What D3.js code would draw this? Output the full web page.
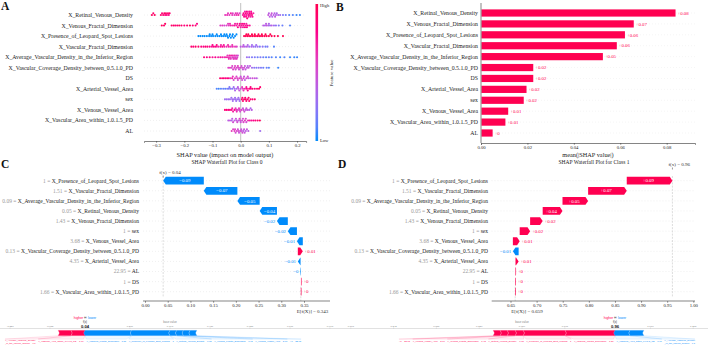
<!DOCTYPE html>
<html><head><meta charset="utf-8">
<script src="https://cdn.jsdelivr.net/npm/d3@7/dist/d3.min.js"></script>
<style>
html,body{margin:0;padding:0;background:#fff;}
svg{display:block;}
</style></head><body>
<svg id="chart" width="708" height="347"></svg>
<script>
// ================= DATA =================
const summaryFeatures = ["X_Retinal_Venous_Density","X_Venous_Fractal_Dimension","X_Presence_of_Leopard_Spot_Lesions","X_Vascular_Fractal_Dimension","X_Average_Vascular_Density_in_the_Inferior_Region","X_Vascular_Coverage_Density_between_0.5.1.0_PD","DS","X_Arterial_Vessel_Area","sex","X_Venous_Vessel_Area","X_Vascular_Area_within_1.0.1.5_PD","AL"];

// beeswarm points: [SHAP value, normalised feature value 0=low 1=high]
const shapRetinalVenousDensity = [[-0.315,.95],[-0.31,.9],[-0.305,.95],[-0.283,.9],[-0.279,.85],[-0.275,.9],[-0.271,.95],[-0.268,.8],[-0.265,.9],[-0.262,.85],[-0.258,.9],[-0.255,.8],[-0.252,.9],[-0.055,.6],[-0.048,.65],[-0.045,.6],[-0.04,.6],[-0.035,.7],[-0.03,.6],[-0.028,.55],[-0.022,.6],[-0.018,.65],[-0.015,.65],[-0.012,.6],[-0.008,.7],[-0.004,.55],[0.008,.75],[0.01,.8],[0.012,.8],[0.014,.75],[0.015,.7],[0.018,.85],[0.019,.8],[0.02,.75],[0.022,.8],[0.023,.85],[0.025,.7],[0.027,.8],[0.028,.75],[0.03,.75],[0.032,.85],[0.033,.8],[0.035,.7],[0.037,.75],[0.038,.8],[0.04,.85],[0.042,.75],[0.045,.7],[0.098,.45],[0.1,.4],[0.103,.4],[0.108,.45],[0.11,.45],[0.112,.35],[0.117,.4],[0.12,.4],[0.122,.45],[0.125,.35],[0.128,.35],[0.133,.4],[0.14,.3],[0.15,.2],[0.16,.15],[0.172,.1],[0.185,.1],[0.198,.05],[0.21,.05]];
const shapVenousFractalDimension = [[-0.28,.95],[-0.272,.9],[-0.268,.95],[-0.245,.9],[-0.238,.95],[-0.232,.85],[-0.225,.9],[-0.218,.95],[-0.21,.9],[-0.2,.85],[-0.19,.9],[-0.18,.95],[-0.17,.85],[-0.16,.9],[-0.155,.8],[-0.072,.55],[-0.065,.6],[-0.058,.5],[-0.05,.55],[-0.045,.6],[-0.042,.6],[-0.038,.65],[-0.035,.7],[-0.028,.65],[-0.022,.75],[-0.02,.7],[-0.015,.7],[-0.012,.75],[-0.01,.8],[-0.005,.75],[-0.003,.8],[0.0,.7],[0.003,.75],[0.005,.8],[0.008,.7],[0.01,.75],[0.012,.8],[0.015,.85],[0.018,.75],[0.02,.7],[0.022,.8],[0.025,.8],[0.032,.75],[0.08,.4],[0.086,.35],[0.09,.4],[0.092,.45],[0.098,.35],[0.1,.35],[0.104,.3],[0.11,.4],[0.118,.3],[0.125,.25],[0.135,.2],[0.148,.15],[0.175,.1]];
const shapLeopardSpotLesions = [[-0.15,0],[-0.143,0],[-0.135,0],[-0.128,0],[-0.12,0],[-0.112,0],[-0.11,0],[-0.105,0],[-0.1,0],[-0.098,0],[-0.09,0],[-0.085,0],[-0.082,0],[-0.075,0],[-0.07,0],[-0.068,0],[-0.062,0],[-0.058,0],[-0.055,0],[-0.05,0],[-0.048,0],[-0.045,0],[-0.04,0],[-0.038,0],[-0.035,0],[-0.03,0],[-0.028,0],[-0.025,0],[-0.02,0],[-0.015,0],[0.012,1],[0.018,1],[0.02,1],[0.024,1],[0.027,1],[0.03,1],[0.036,1],[0.04,1],[0.042,1],[0.048,1],[0.05,1],[0.054,1],[0.06,1],[0.063,1],[0.066,1],[0.072,1],[0.075,1],[0.078,1],[0.085,1],[0.088,1],[0.092,1],[0.1,1],[0.105,1],[0.11,1],[0.12,1],[0.132,1],[0.15,1]];
const shapVascularFractalDimension = [[-0.175,.9],[-0.168,.85],[-0.16,.95],[-0.15,.9],[-0.14,.85],[-0.132,.8],[-0.125,.9],[-0.118,.85],[-0.11,.8],[-0.102,.75],[-0.1,.8],[-0.095,.85],[-0.088,.8],[-0.085,.85],[-0.08,.7],[-0.072,.75],[-0.07,.7],[-0.065,.8],[-0.06,.75],[-0.058,.7],[-0.05,.65],[-0.045,.7],[-0.042,.7],[-0.035,.6],[-0.03,.65],[-0.028,.65],[-0.02,.6],[-0.014,.55],[0.0,.4],[0.008,.45],[0.01,.4],[0.015,.35],[0.022,.4],[0.025,.35],[0.03,.3],[0.038,.35],[0.04,.3],[0.045,.3],[0.052,.25],[0.055,.3],[0.06,.3],[0.068,.2],[0.078,.25],[0.088,.15],[0.095,.2],[0.118,.1]];
const shapAvgVascularDensityInferior = [[-0.13,.85],[-0.12,.8],[-0.11,.85],[-0.1,.75],[-0.09,.8],[-0.08,.7],[-0.072,.75],[-0.065,.7],[-0.058,.65],[-0.052,.7],[-0.047,.6],[-0.045,.65],[-0.042,.65],[-0.04,.7],[-0.038,.6],[-0.035,.6],[-0.034,.7],[-0.03,.55],[-0.028,.65],[-0.026,.6],[-0.024,.55],[-0.022,.65],[-0.02,.6],[-0.018,.55],[-0.016,.6],[-0.014,.6],[-0.012,.55],[-0.01,.5],[0.022,.3],[0.03,.25],[0.04,.2],[0.05,.2],[0.06,.15],[0.07,.2],[0.08,.15],[0.09,.1],[0.1,.15],[0.11,.1],[0.125,.1],[0.14,.05],[0.155,.1],[0.175,.05],[0.19,.05],[0.2,.05]];
const shapVascularCoverageDensity = [[-0.044,.55],[-0.038,.6],[-0.032,.5],[-0.03,.55],[-0.027,.55],[-0.022,.6],[-0.02,.55],[-0.018,.5],[-0.014,.55],[-0.01,.6],[-0.008,.5],[-0.006,.5],[-0.002,.55],[0.003,.5],[0.005,.5],[0.008,.45],[0.012,.5],[0.015,.45],[0.017,.45],[0.022,.4],[0.025,.4],[0.028,.45],[0.033,.4],[0.04,.3],[0.048,.25],[0.056,.2],[0.064,.25],[0.072,.2],[0.08,.15],[0.092,.15],[0.1,.1],[0.133,.05]];
const shapDS = [[-0.073,.9],[-0.066,.85],[-0.06,.9],[-0.054,.8],[-0.048,.85],[-0.042,.8],[-0.036,.6],[-0.03,.7],[-0.028,.6],[-0.025,.5],[-0.02,.6],[-0.015,.55],[-0.012,.55],[-0.01,.5],[-0.005,.6],[0.0,.45],[0.002,.5],[0.005,.5],[0.01,.55],[0.012,.45],[0.015,.4],[0.02,.5],[0.025,.5],[0.027,.45],[0.034,.4],[0.042,.5],[0.05,.45],[0.057,.4]];
const shapArterialVesselArea = [[-0.085,.1],[-0.078,.05],[-0.07,.1],[-0.062,.15],[-0.055,.1],[-0.048,.2],[-0.042,.15],[-0.04,.2],[-0.036,.25],[-0.03,.2],[-0.025,.3],[-0.022,.3],[-0.02,.35],[-0.015,.3],[-0.01,.4],[-0.008,.4],[-0.005,.45],[0.0,.5],[0.005,.6],[0.008,.6],[0.01,.65],[0.015,.7],[0.02,.75],[0.022,.8],[0.025,.8],[0.03,.85],[0.035,.85],[0.036,.8],[0.042,.9],[0.05,.85],[0.058,.9],[0.065,.95],[0.069,.9]];
const shapSex = [[-0.056,.3],[-0.05,.3],[-0.044,.3],[-0.038,.3],[-0.033,.3],[-0.03,.3],[-0.028,.3],[-0.024,.3],[-0.02,.3],[-0.018,.3],[-0.016,.3],[-0.012,.3],[-0.008,.3],[-0.006,.3],[-0.004,.3],[0.004,.9],[0.006,.9],[0.008,.9],[0.012,.9],[0.016,.9],[0.018,.9],[0.02,.9],[0.025,.9],[0.028,.9],[0.03,.9],[0.035,.9],[0.042,.9],[0.05,.9]];
const shapVenousVesselArea = [[-0.056,.85],[-0.05,.9],[-0.044,.8],[-0.038,.85],[-0.032,.75],[-0.03,.7],[-0.027,.7],[-0.022,.8],[-0.018,.6],[-0.016,.6],[-0.014,.65],[-0.01,.55],[-0.006,.6],[-0.004,.55],[-0.002,.5],[0.003,.55],[0.008,.45],[0.01,.5],[0.013,.5],[0.018,.4],[0.02,.45],[0.024,.45],[0.03,.4],[0.035,.35],[0.039,.4]];
const shapVascularAreaWithin = [[-0.044,.4],[-0.038,.45],[-0.032,.35],[-0.03,.4],[-0.027,.5],[-0.022,.4],[-0.017,.45],[-0.015,.45],[-0.012,.5],[-0.008,.4],[-0.004,.55],[-0.002,.5],[0.0,.45],[0.005,.5],[0.008,.5],[0.01,.55],[0.015,.6],[0.018,.55],[0.02,.5],[0.026,.65],[0.032,.7],[0.038,.75],[0.045,.8],[0.052,.85],[0.06,.9],[0.068,.95]];
const shapAL = [[-0.032,.6],[-0.027,.55],[-0.022,.6],[-0.02,.55],[-0.018,.5],[-0.014,.55],[-0.01,.5],[-0.008,.5],[-0.006,.45],[-0.002,.5],[0.002,.45],[0.004,.45],[0.006,.5],[0.01,.4],[0.012,.45],[0.014,.45],[0.018,.4],[0.022,.45],[0.027,.4],[0.069,.3]];
const summaryTicks = [-0.3,-0.2,-0.1,0,0.1,0.2];

const meanAbsShap = [0.0836,0.0656,0.0618,0.0583,0.0523,0.0223,0.0223,0.0194,0.0182,0.0115,0.0103,0.0048];
const meanAbsTicks = [0,0.02,0.04,0.06,0.08];

const waterfallFeatures = ["X_Presence_of_Leopard_Spot_Lesions","X_Vascular_Fractal_Dimension","X_Average_Vascular_Density_in_the_Inferior_Region","X_Retinal_Venous_Density","X_Venous_Fractal_Dimension","sex","X_Venous_Vessel_Area","X_Vascular_Coverage_Density_between_0.5.1.0_PD","X_Arterial_Vessel_Area","AL","DS","X_Vascular_Area_within_1.0.1.5_PD"];
const waterfallFeatureValues = ["1","1.51","0.09","0.05","1.43","1","3.68","0.13","4.35","22.95","1","1.66"];
const shapClass0 = [-0.0894,-0.074,-0.049,-0.038,-0.024,-0.02,-0.013,0.011,-0.006,-0.001,0.0002,0.0002];
const baseClass0 = 0.343;
const shapClass1 = [0.0874,0.074,0.049,0.038,0.024,0.02,0.013,-0.011,0.006,0.0002,0.0002,0.0002];
const baseClass1 = 0.659;
const waterfallTicks0 = [0,0.05,0.10,0.15,0.20,0.25,0.30,0.35];
const waterfallTicks1 = [0.65,0.70,0.75,0.80,0.85,0.90,0.95,1.00];

// force plots (small embedded plots under C and D)
const forceC_features = ["X_Average_Vascular_Density_in_the_Inferior_Region","X_Vascular_Area_within_1.0.1.5_PD","X_Vascular_Fractal_Dimension","X_Presence_of_Leopard_Spot_Lesions","X_Retinal_Venous_Density","X_Venous_Fractal_Dimension","X_Venous_Vessel_Area","AL"];
const forceC_values = ["0.1","1.66","1.51","1","0.05","1.43","3.67","22.95"];
const forceC_effects = [0.046,0.050,-0.166,-0.137,-0.024,-0.024,-0.024,-0.024];
const forceC_base = 0.343;
const forceC_ticks = [-0.227,-0.085,0.200,0.343,0.486,0.628,0.771,0.913];
const forceD_features = ["AL","X_Venous_Vessel_Area","X_Venous_Fractal_Dimension","X_Retinal_Venous_Density","X_Presence_of_Leopard_Spot_Lesions","X_Vascular_Fractal_Dimension","X_Vascular_Area_within_1.0.1.5_PD","X_Average_Vascular_Density_in_the_Inferior_Region"];
const forceD_values = ["22.95","3.67","1.43","0.05","1","1.51","1.66","0.1"];
const forceD_effects = [0.023,0.023,0.026,0.026,0.136,0.162,-0.049,-0.045];
const forceD_base = 0.659;
const forceD_ticks = [0.103,0.242,0.381,0.520,0.659,0.798,1.076,1.215];

// ================= RENDER =================
const RED = "#ff0051", BLUE = "#008bfb";
const SERIF = '"Liberation Serif","Times New Roman",serif';
const SANS = '"Liberation Sans",Arial,sans-serif';
const svg = d3.select("#chart");
const fv = d3.interpolateHcl(BLUE, RED);
function fmtSigned(v){
  let s = Math.abs(v).toFixed(2).replace(/\.?0+$/,'');
  if (s === "") s = "0";
  return (v < 0 ? "\u2212" : "+") + s;
}
function fmtVal(v){ return v.toFixed(3).replace(/0+$/,'').replace(/\.$/,''); }
function txt(g, x, y, s, o={}) {
  return g.append("text").attr("x", x).attr("y", y).text(s)
    .attr("font-family", o.ff || SERIF).attr("font-size", o.fs || 5.8)
    .attr("fill", o.fill || "#222").attr("text-anchor", o.anchor || "start")
    .attr("font-weight", o.fw || "normal");
}
function styleAxis(ax){
  ax.select(".domain").attr("stroke","#333").attr("stroke-width",0.6);
  ax.selectAll(".tick line").attr("stroke","#333").attr("stroke-width",0.5);
  ax.selectAll("text").attr("font-family",SERIF).attr("font-size",4.7).attr("fill","#222");
}

// panel letters
[["A",1,10],["B",336,11],["C",1,168],["D",338,168]].forEach(([l,x,y]) =>
  txt(svg, x, y, l, {fs: 11.5, fw: "bold", fill: "#111"}));

// ---------- Panel A: beeswarm ----------
(function(){
  const g = svg.append("g");
  const x = d3.scaleLinear().domain([-0.343, 0.232]).range([144, 306.1]);
  const y = d3.scalePoint().domain(d3.range(summaryFeatures.length)).range([15, 131]);
  const rows = [shapRetinalVenousDensity, shapVenousFractalDimension, shapLeopardSpotLesions, shapVascularFractalDimension, shapAvgVascularDensityInferior, shapVascularCoverageDensity, shapDS, shapArterialVesselArea, shapSex, shapVenousVesselArea, shapVascularAreaWithin, shapAL];
  rows.forEach((r,i) => g.append("line").attr("x1",144).attr("x2",306).attr("y1",y(i)).attr("y2",y(i))
    .attr("stroke","#ccc").attr("stroke-width",0.5).attr("stroke-dasharray","0.6,2.4"));
  g.append("line").attr("x1",x(0)).attr("x2",x(0)).attr("y1",3).attr("y2",141).attr("stroke","#999").attr("stroke-width",0.6);
  summaryFeatures.forEach((f,i) => txt(g, 133, y(i)+2, f, {anchor:"end", fs:5.8}));
  const R = 1.05, maxOff = 4.0;
  rows.forEach((pts, i) => {
    const ps = pts.map(p => ({x: x(p[0]), c: p[1]})).sort((a,b) => a.x - b.x);
    const placed = [];
    ps.forEach(p => {
      let best = 0, bestD = -1;
      for (let n = 0; n < 30; n++) {
        const off = n === 0 ? 0 : Math.ceil(n/2) * R * 1.6 * (n % 2 ? -1 : 1);
        if (Math.abs(off) > maxOff) continue;
        const dmin = d3.min(placed, q => (q.x-p.x)**2 + (q.dy-off)**2);
        if (dmin === undefined || dmin >= (2*R*0.8)**2) { best = off; bestD = Infinity; break; }
        if (dmin > bestD) { bestD = dmin; best = off; }
      }
      p.dy = best; placed.push(p);
    });
    g.selectAll(null).data(ps).enter().append("circle")
      .attr("cx", d => d.x).attr("cy", d => y(i) + d.dy).attr("r", R)
      .attr("fill", d => fv(d.c));
  });
  const ax = g.append("g").attr("transform","translate(0,141)")
    .call(d3.axisBottom(x).tickValues(summaryTicks).tickFormat(d3.format(".1f")).tickSize(1.8).tickPadding(1));
  styleAxis(ax);
  txt(g, 225, 156.5, "SHAP value (impact on model output)", {anchor:"middle", fs:6.3});
  const defs = svg.append("defs");
  const grad = defs.append("linearGradient").attr("id","cb").attr("x1",0).attr("x2",0).attr("y1",1).attr("y2",0);
  d3.range(0,1.001,0.1).forEach(t => grad.append("stop").attr("offset",t).attr("stop-color",fv(t)));
  g.append("rect").attr("x",315.5).attr("y",4).attr("width",2.6).attr("height",137).attr("fill","url(#cb)");
  txt(g, 320, 7, "High", {fs:4.6});
  txt(g, 320, 142, "Low", {fs:4.6});
  txt(g, 0, 0, "Feature value", {fs:5, anchor:"middle"}).attr("transform","translate(333,73) rotate(-90)");
})();

// ---------- Panel B: mean |SHAP| bars ----------
(function(){
  const g = svg.append("g");
  const x = d3.scaleLinear().domain([0, 0.0922]).range([481, 695]);
  const y = d3.scalePoint().domain(d3.range(summaryFeatures.length)).range([13, 133]);
  summaryFeatures.forEach((f,i) => {
    g.append("line").attr("x1",481).attr("x2",695).attr("y1",y(i)).attr("y2",y(i))
      .attr("stroke","#ddd").attr("stroke-width",0.5).attr("stroke-dasharray","0.6,2.4");
  });
  g.selectAll(null).data(meanAbsShap).enter().append("rect")
    .attr("x", x(0)+0.5).attr("y", (d,i) => y(i)-3.6).attr("height", 7.2)
    .attr("width", d => x(d) - x(0)).attr("fill", RED);
  meanAbsShap.forEach((d,i) => txt(g, x(d)+2.5, y(i)+1.7, fmtSigned(d), {fs:4.8, fill:RED}));
  summaryFeatures.forEach((f,i) => txt(g, 478, y(i)+2, f, {anchor:"end", fs:5.8}));
  g.append("line").attr("x1",481).attr("x2",481).attr("y1",3).attr("y2",143).attr("stroke","#333").attr("stroke-width",0.6);
  const ax = g.append("g").attr("transform","translate(0,143)")
    .call(d3.axisBottom(x).tickValues(meanAbsTicks).tickFormat(d3.format(".2f")).tickSize(1.8).tickPadding(1));
  styleAxis(ax);
  txt(g, 588, 156.5, "mean(|SHAP value|)", {anchor:"middle", fs:6.3});
})();

// ---------- Waterfalls ----------
function waterfall(o){
  const g = svg.append("g");
  const x = o.x;
  const yW = i => 180.7 + i * 10.09;
  const n = o.vals.length;
  for (let i = 0; i < n; i++)
    g.append("line").attr("x1",o.ax0).attr("x2",o.ax1).attr("y1",yW(i)).attr("y2",yW(i))
      .attr("stroke","#ccc").attr("stroke-width",0.5).attr("stroke-dasharray","0.6,2.4");
  let cum = o.base; const segs = [];
  for (let i = n-1; i >= 0; i--) { segs[i] = [cum, cum + o.vals[i]]; cum += o.vals[i]; }
  const fx = cum;
  g.append("line").attr("x1",x(fx)).attr("x2",x(fx)).attr("y1",176).attr("y2",297)
    .attr("stroke","#bbb").attr("stroke-width",0.5).attr("stroke-dasharray","2,1.2");
  g.append("line").attr("x1",x(o.base)).attr("x2",x(o.base)).attr("y1",yW(n-1)-5).attr("y2",301)
    .attr("stroke","#bbb").attr("stroke-width",0.5).attr("stroke-dasharray","2,1.2");
  g.append("line").attr("x1",x(fx)).attr("x2",x(fx)).attr("y1",o.fxY+1.5).attr("y2",o.fxY+3.5).attr("stroke","#333").attr("stroke-width",0.5);
  const h = 3.9;
  segs.forEach((s,i) => {
    const a = x(s[0]), b = x(s[1]), dir = b >= a ? 1 : -1, w = Math.abs(b-a);
    const hl = Math.min(w, 2.6), yy = yW(i);
    const bb = w < 0.7 ? a + dir*0.7 : b;
    const col = o.vals[i] >= 0 ? RED : BLUE;
    g.append("path").attr("d", d3.line()([[a,yy-h],[bb-dir*hl,yy-h],[bb,yy],[bb-dir*hl,yy+h],[a,yy+h]]) + "Z")
      .attr("fill", col);
    const lab = fmtSigned(o.vals[i]);
    const tw = lab.length * 2.45;
    if (w - hl > tw + 1) {
      txt(g, (a + b - dir*hl)/2, yy+1.7, lab, {anchor:"middle", fs:4.8, fill:"#fff"});
    } else if (dir > 0) {
      txt(g, Math.max(a,bb) + 1.8, yy+1.7, lab, {fs:4.8, fill:col});
    } else {
      txt(g, Math.min(a,bb) - 1.8, yy+1.7, lab, {anchor:"end", fs:4.8, fill:col});
    }
    const t = txt(g, o.labelX, yW(i)+1.9, "", {anchor:"end", fs:5.5});
    t.append("tspan").attr("fill","#999").text(waterfallFeatureValues[i] + " = ");
    t.append("tspan").attr("fill","#222").text(waterfallFeatures[i]);
  });
  const ax = g.append("g").attr("transform","translate(0,301)")
    .call(d3.axisBottom(x).tickValues(o.ticks).tickFormat(d3.format(".2f")).tickSize(1.8).tickPadding(1));
  styleAxis(ax);
  ax.select(".domain").remove();
  g.append("line").attr("x1",o.ax0).attr("x2",o.ax1).attr("y1",301).attr("y2",301).attr("stroke","#333").attr("stroke-width",0.6);
  txt(g, x(o.base) - 4, 312.5, "E[f(X)] = " + fmtVal(o.base), {fs:5, fill:"#333"});
  txt(g, x(fx) - 4, o.fxY, "f(x) = " + fmtVal(fx), {fs:5, fill:"#333"});
  txt(g, o.titleX, 163.5, o.title, {anchor:"middle", fs:5.5});
}
waterfall({x: d3.scaleLinear().domain([0,0.35]).range([145,304]), vals: shapClass0, base: baseClass0,
  ticks: waterfallTicks0, ax0: 143, ax1: 330, labelX: 139, fxY: 174, titleX: 227, title: "SHAP Waterfall Plot for Class 0"});
waterfall({x: d3.scaleLinear().domain([0.65,1.0]).range([510.5,693.3]), vals: shapClass1, base: baseClass1,
  ticks: waterfallTicks1, ax0: 491.7, ax1: 695, labelX: 488, fxY: 166, titleX: 594, title: "SHAP Waterfall Plot for Class 1"});

// ---------- Force plots ----------
function forceLabel(g, x, y, s, col, anchor, limit, fs){
  // draws a label; wraps onto two lines (and shrinks) when it would run past the panel edge
  const t = txt(g, x, y, s, {ff:SANS, fs, fill:col, anchor});
  let w = t.node().getComputedTextLength();
  const room = anchor === "end" ? x - limit : limit - x;
  if (w > room) {
    const mid = s.length / 2;
    let cut = -1;
    for (let k = 0; k < s.length; k++) if (s[k] === "_" && (cut < 0 || Math.abs(k - mid) < Math.abs(cut - mid))) cut = k;
    t.text(null);
    t.append("tspan").attr("x", x).attr("dy", -1.3).text(s.slice(0, cut));
    t.append("tspan").attr("x", x).attr("dy", 2.6).text(s.slice(cut));
    w = d3.max(t.selectAll("tspan").nodes(), n => n.getComputedTextLength());
    if (w > room) { t.attr("font-size", fs * room / w); w = room; }
  }
  return w;
}
function force(o){
  const g = svg.append("g");
  const x = o.x;
  const fxv = o.base + d3.sum(o.effects);
  const axY = 328.5, top = 330.2, bot = 335.8, labY = 342.3, LFS = 2.35;
  g.append("line").attr("x1",o.x0).attr("x2",o.x1).attr("y1",axY).attr("y2",axY).attr("stroke","#999").attr("stroke-width",0.3);
  o.ticks.forEach(t => {
    g.append("line").attr("x1",x(t)).attr("x2",x(t)).attr("y1",axY-1).attr("y2",axY).attr("stroke","#999").attr("stroke-width",0.3);
    txt(g, x(t), axY-1.6, t.toFixed(3), {ff:SANS, fs:2.5, fill:"#888", anchor:"middle"});
  });
  const fxX = x(fxv);
  const hl = txt(g, fxX, 319, "", {ff:SANS, fs:3.4, anchor:"middle"});
  hl.append("tspan").attr("fill",RED).text("higher");
  hl.append("tspan").attr("fill","#888").text(" \u21c4 ");
  hl.append("tspan").attr("fill",BLUE).text("lower");
  txt(g, fxX, 323, "f(x)", {ff:SANS, fs:2.8, anchor:"middle", fill:"#333"});
  txt(g, fxX, 328, fxv.toFixed(2), {ff:SANS, fs:4.2, anchor:"middle", fw:"bold", fill:"#111"});
  txt(g, x(o.base), 323, "base value", {ff:SANS, fs:2.8, anchor:"middle", fill:"#888"});
  const idx = o.effects.map((e,i) => i);
  const pos = idx.filter(i => o.effects[i] > 0), neg = idx.filter(i => o.effects[i] < 0);
  let cur = fxv; const ch = 1.3;
  const posSegs = [];
  for (let k = pos.length-1; k >= 0; k--) { const i = pos[k]; posSegs.unshift({i, a: x(cur - o.effects[i]), b: x(cur)}); cur -= o.effects[i]; }
  cur = fxv; const negSegs = [];
  neg.forEach(i => { negSegs.push({i, a: x(cur), b: x(cur - o.effects[i])}); cur -= o.effects[i]; });
  const mid = (top+bot)/2;
  posSegs.forEach(s => g.append("path").attr("d", d3.line()([[s.a,top],[s.b,top],[s.b+ch,mid],[s.b,bot],[s.a,bot],[s.a+ch,mid]])+"Z")
    .attr("fill",RED).attr("stroke","#ffb3c8").attr("stroke-width",0.25));
  negSegs.forEach(s => g.append("path").attr("d", d3.line()([[s.a,top],[s.b,top],[s.b-ch,mid],[s.b,bot],[s.a,bot],[s.a-ch,mid]])+"Z")
    .attr("fill",BLUE).attr("stroke","#b3dcff").attr("stroke-width",0.25));
  let lx = fxX - 1.5;
  for (let k = posSegs.length-1; k >= 0; k--) {
    const s = posSegs[k];
    const w = forceLabel(g, lx, labY, o.names[s.i] + " = " + o.vals[s.i], RED, "end", o.x0 + 1.5, LFS);
    g.append("path").attr("d", d3.line()([[s.a,bot],[lx-w,labY-3.2],[lx,labY-3.2],[s.b,bot]]))
      .attr("fill",RED).attr("fill-opacity",0.06).attr("stroke",RED).attr("stroke-opacity",0.35).attr("stroke-width",0.3);
    lx -= w + 2.5;
  }
  lx = fxX + 1.5;
  negSegs.forEach(s => {
    const w = forceLabel(g, lx, labY, o.names[s.i] + " = " + o.vals[s.i], BLUE, "start", o.x1 - 1.5, LFS);
    g.append("path").attr("d", d3.line()([[s.a,bot],[lx,labY-3.2],[lx+w,labY-3.2],[s.b,bot]]))
      .attr("fill",BLUE).attr("fill-opacity",0.06).attr("stroke",BLUE).attr("stroke-opacity",0.35).attr("stroke-width",0.3);
    lx += w + 2.5;
  });
}
force({x: d3.scaleLinear().domain([0.04, 0.343]).range([85,170]), base: forceC_base, effects: forceC_effects,
  names: forceC_features, vals: forceC_values, ticks: forceC_ticks, x0: 0, x1: 350});
force({x: d3.scaleLinear().domain([0.659, 0.961]).range([522,615]), base: forceD_base, effects: forceD_effects,
  names: forceD_features, vals: forceD_values, ticks: forceD_ticks, x0: 350, x1: 708});
</script>
</body></html>
